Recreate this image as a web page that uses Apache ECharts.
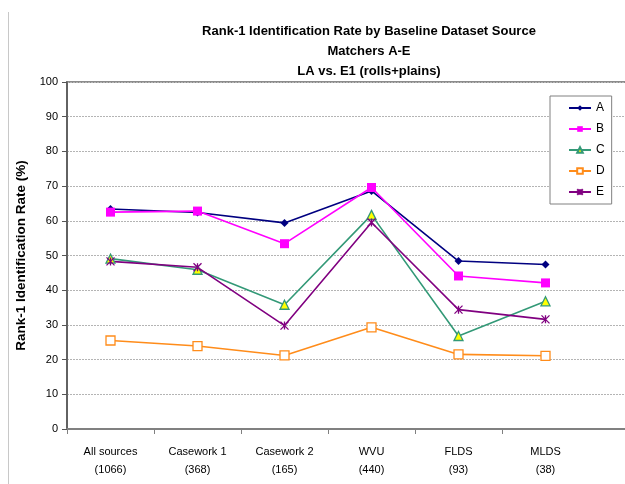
<!DOCTYPE html>
<html>
<head>
<meta charset="utf-8">
<script src="https://cdn.jsdelivr.net/npm/echarts@6/dist/echarts.min.js"></script>
<style>
  html, body { margin: 0; padding: 0; background: #fff; }
  #chart { width: 625px; height: 484px; }
</style>
</head>
<body>
<div id="chart"></div>
<script>
// categories and sample counts
var sources = ['All sources', 'Casework 1', 'Casework 2', 'WVU', 'FLDS', 'MLDS'];
var counts = [1066, 368, 165, 440, 93, 38];

// rank-1 identification rate (%) per matcher
var matcherA = [63.4, 62.4, 59.4, 68.6, 48.4, 47.4];
var matcherB = [62.5, 62.8, 53.4, 69.6, 44.1, 42.1];
var matcherC = [49.1, 45.9, 35.8, 61.7, 26.8, 36.8];
var matcherD = [25.5, 23.9, 21.2, 29.3, 21.5, 21.1];
var matcherE = [48.3, 46.6, 29.8, 59.5, 34.4, 31.6];

var yTicks = { min: 0, max: 100, interval: 10 };

// axis labels: name + count on a second line; a blank slot keeps the plot running off the right edge
var axisLabels = sources.map(function(s, i) {
	return s + '\n(' + counts[i] + ')';
}).concat(['']);

var starPath = 'path://M0,0L10,10M10,0L0,10M5,0L5,10';

function makeSeries(name, data, color, symbol, size, fill) {
	return {
		name: name,
		type: 'line',
		data: data,
		symbol: symbol,
		symbolSize: size,
		showSymbol: true,
		lineStyle: { color: color, width: 1.6 },
		itemStyle: { color: fill || color, borderColor: color, borderWidth: fill ? 1.3 : 0 },
		emphasis: { disabled: true },
		animation: false,
		z: 3
	};
}

var chart = echarts.init(document.getElementById('chart'), null, { renderer: 'canvas' });

chart.setOption({
	backgroundColor: '#ffffff',
	textStyle: { fontFamily: 'Liberation Sans' },
	title: {
		text: 'Rank-1 Identification Rate by Baseline Dataset Source\nMatchers A-E\nLA vs. E1 (rolls+plains)',
		left: 364,
		top: 16,
		textAlign: 'center',
		textStyle: {
			fontFamily: 'Liberation Sans',
			fontSize: 13,
			fontWeight: 'bold',
			color: '#000',
			lineHeight: 20
		}
	},
	legend: {
		orient: 'vertical',
		left: 550,
		top: 96,
		padding: [6, 7, 6, 18],
		itemWidth: 22,
		itemHeight: 7,
		itemGap: 9,
		backgroundColor: '#fff',
		borderColor: '#808080',
		borderWidth: 1,
		borderRadius: 0,
		textStyle: { fontSize: 12, color: '#000' },
		data: ['A', 'B', 'C', 'D', 'E']
	},
	grid: {
		left: 67,
		top: 82,
		width: 609,
		bottom: 55,
		show: true,
		borderColor: '#8c8c8c',
		borderWidth: 2,
		containLabel: false,
		outerBoundsMode: 'none'
	},
	xAxis: {
		type: 'category',
		data: axisLabels,
		boundaryGap: true,
		axisLine: { lineStyle: { color: '#808080', width: 2 } },
		axisTick: {
			show: true,
			length: 5,
			interval: function(index) { return index < sources.length; },
			lineStyle: { color: '#808080', width: 1 }
		},
		axisLabel: {
			interval: 0,
			margin: 14,
			fontSize: 11,
			lineHeight: 18,
			color: '#000'
		},
		splitLine: { show: false }
	},
	yAxis: {
		type: 'value',
		min: yTicks.min,
		max: yTicks.max,
		interval: yTicks.interval,
		name: 'Rank-1 Identification Rate (%)',
		nameLocation: 'middle',
		nameRotate: 90,
		nameGap: 34,
		nameTextStyle: { fontSize: 13.5, fontWeight: 'bold', color: '#000' },
		axisLine: { show: true, lineStyle: { color: '#555', width: 1.5 } },
		axisTick: { show: true, inside: false, length: 5, lineStyle: { color: '#555' } },
		axisLabel: { fontSize: 11, margin: 9, color: '#000' },
		splitLine: { show: true, lineStyle: { color: '#b4b4b4', type: [2, 1], width: 1 } }
	},
	graphic: [{
		type: 'line',
		shape: { x1: 8.5, y1: 12, x2: 8.5, y2: 484 },
		style: { stroke: '#c8c8c8', lineWidth: 1 },
		silent: true
	}],
	series: [
		makeSeries('A', matcherA, '#000080', 'diamond', 8),
		makeSeries('B', matcherB, '#ff00ff', 'rect', 9),
		makeSeries('C', matcherC, '#339977', 'triangle', 9, '#ffff00'),
		makeSeries('D', matcherD, '#ff8c1a', 'rect', 9, '#ffffff'),
		makeSeries('E', matcherE, '#800080', starPath, 8, '#800080')
	]
});
</script>
</body>
</html>
